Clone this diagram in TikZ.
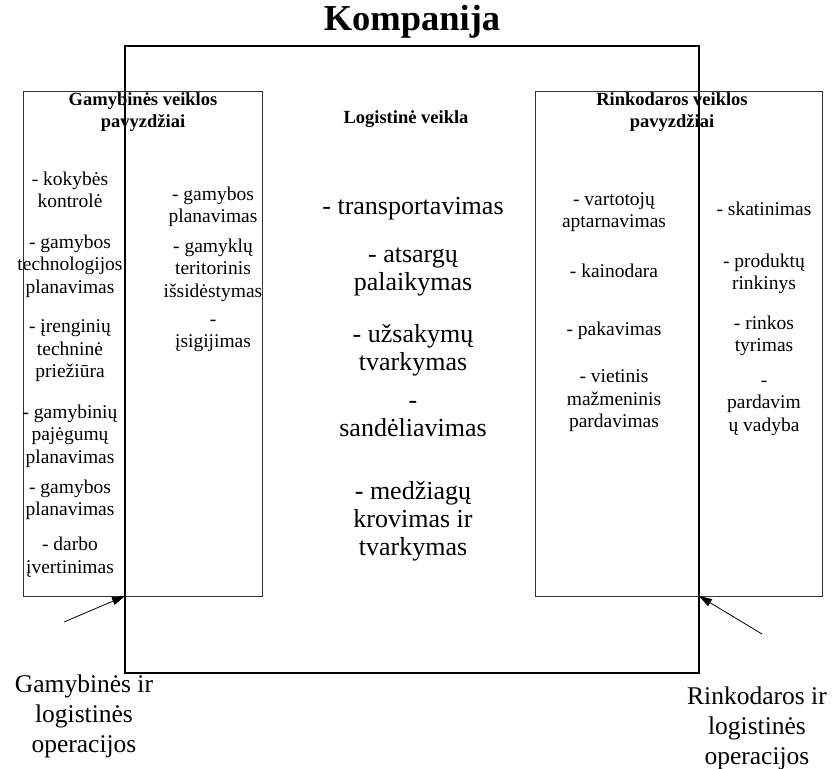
\documentclass[tikz,border=0pt]{standalone}
\usepackage{fontspec}
\setmainfont{Liberation Serif}
\usetikzlibrary{arrows.meta}

\tikzset{
  frame/.style={draw=black, line width=1.6pt, inner sep=0pt, outer sep=0pt},
  sidebox/.style={draw=black!80, line width=0.9pt, inner sep=0pt, outer sep=0pt},
  maintitle/.style={font=\fontsize{36.5}{40}\selectfont\bfseries, inner sep=0pt},
  boxtitle/.style={font=\fontsize{18.5}{22}\selectfont\bfseries, align=center, inner sep=0pt},
  item/.style={font=\fontsize{19.5}{22.5}\selectfont, align=center, inner sep=0pt},
  bigitem/.style={font=\fontsize{26}{28}\selectfont, align=center, inner sep=0pt},
  caption/.style={font=\fontsize{25.5}{30}\selectfont, align=center, inner sep=0pt},
  pointer/.style={draw=black, line width=0.8pt, -{Triangle[length=13pt,width=8pt]}}
}

\begin{document}
\begin{tikzpicture}[x=1pt,y=-1pt]
\useasboundingbox (0,0) rectangle (839,769);

% frames
\node[frame, minimum width=574pt, minimum height=627pt] (company) at (412,359.5) {};
\node[sidebox, minimum width=239pt, minimum height=505pt] (prodbox) at (142.5,343.5) {};
\node[sidebox, minimum width=287pt, minimum height=505pt] (mktbox) at (678.5,343.5) {};

% titles
\node[maintitle] (title) at (412,22) {Kompanija};
\node[boxtitle] (prodtitle) at (143,112) {Gamybinės veiklos\\pavyzdžiai};
\node[boxtitle] (logtitle) at (406,119) {Logistinė veikla};
\node[boxtitle] (mkttitle) at (672,112) {Rinkodaros veiklos\\pavyzdžiai};

% production examples, outer column
\node[item] (p1) at (70,190) {- kokybės\\kontrolė};
\node[item] (p2) at (70,266) {- gamybos\\technologijos\\planavimas};
\node[item] (p3) at (70,351) {- įrenginių\\techninė\\priežiūra};
\node[item] (p4) at (70,436) {- gamybinių\\pajėgumų\\planavimas};
\node[item] (p5) at (70,500) {- gamybos\\planavimas};
\node[item] (p6) at (70,557) {- darbo\\įvertinimas};

% production examples, inner column
\node[item] (q1) at (213,207) {- gamybos\\planavimas};
\node[item] (q2) at (213,270) {- gamyklų\\teritorinis\\išsidėstymas};
\node[item] (q3) at (213,336) {-\\įsigijimas};

% logistics
\node[bigitem] (l1) at (413,209) {- transportavimas};
\node[bigitem] (l2) at (413,272) {- atsargų\\palaikymas};
\node[bigitem] (l3) at (413,350) {- užsakymų\\tvarkymas};
\node[bigitem] (l4) at (413,419) {-\\sandėliavimas};
\node[bigitem] (l5) at (413,521) {- medžiagų\\krovimas ir\\tvarkymas};

% marketing examples, inner column
\node[item] (m1) at (614,212) {- vartotojų\\aptarnavimas};
\node[item] (m2) at (614,271) {- kainodara};
\node[item] (m3) at (614,331) {- pakavimas};
\node[item] (m4) at (614,401) {- vietinis\\mažmeninis\\pardavimas};

% marketing examples, outer column
\node[item] (n1) at (764,209) {- skatinimas};
\node[item] (n2) at (764,274) {- produktų\\rinkinys};
\node[item] (n3) at (764,336) {- rinkos\\tyrimas};
\node[item] (n4) at (764,408) {-\\pardavim\\ų vadyba};

% captions and pointers
\node[caption] (leftcap) at (84,716) {Gamybinės ir\\logistinės\\operacijos};
\node[caption] (rightcap) at (757,728) {Rinkodaros ir\\logistinės\\operacijos};

\coordinate (lt) at (64,622);
\coordinate (rt) at (762,634);
\draw[pointer] (lt) -- (prodbox.south -| company.west);
\draw[pointer] (rt) -- (mktbox.south -| company.east);
\end{tikzpicture}
\end{document}
